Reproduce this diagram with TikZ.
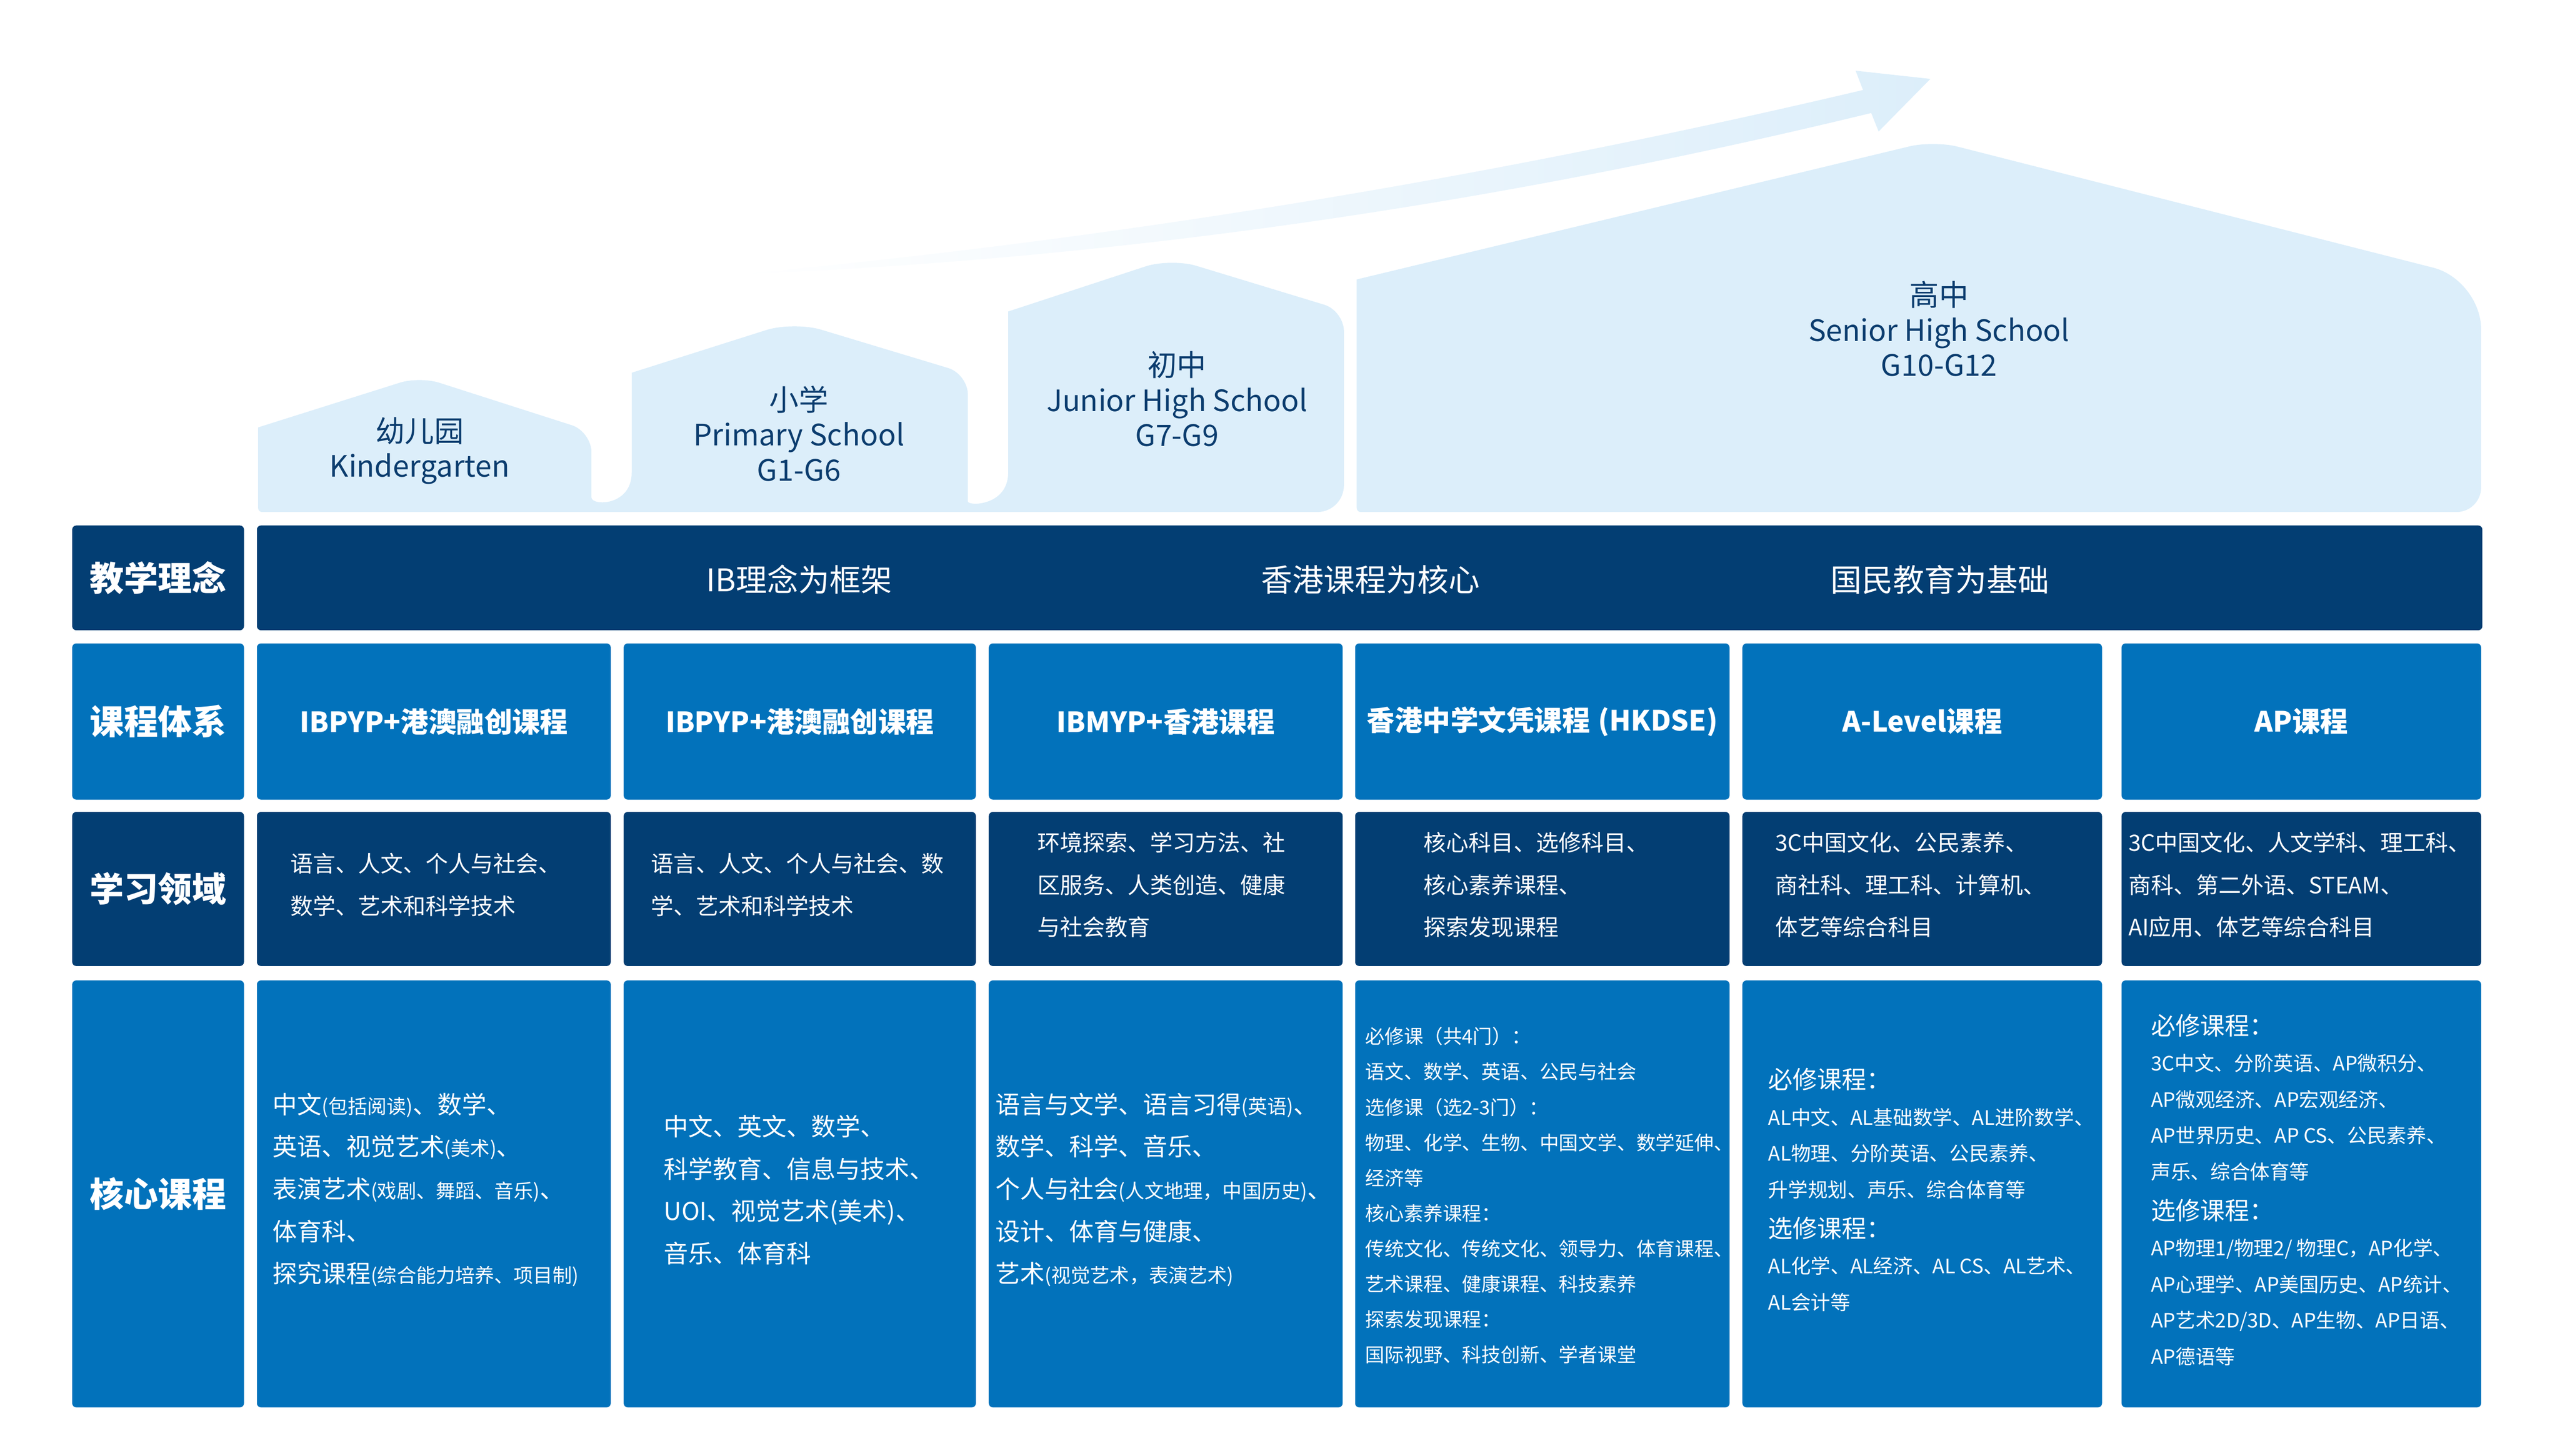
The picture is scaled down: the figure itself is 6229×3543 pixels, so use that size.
\documentclass[tikz,border=0pt]{standalone}
\usepackage{fontspec}
\setmainfont{Noto Sans CJK SC}
\usepackage{tikz}
\usetikzlibrary{positioning}
\definecolor{deepblue}{HTML}{033E73}
\definecolor{midblue}{HTML}{0272BB}
\definecolor{paleblue}{HTML}{DCEEFA}
\definecolor{inkblue}{HTML}{0B3C6E}
\tikzset{
      cell/.style      = {anchor=north west, inner sep=0pt, rounded corners=1mm, text=white},
      darkcell/.style  = {cell, fill=deepblue},
      bluecell/.style  = {cell, fill=midblue},
      rowname/.style   = {font=\fontsize{23.6pt}{28pt}\selectfont\bfseries},
      sysname/.style   = {font=\fontsize{19.3pt}{24pt}\selectfont\bfseries},
      ideatext/.style  = {text=white, font=\fontsize{21.6pt}{26pt}\selectfont},
      areatext/.style  = {anchor=west, align=left, inner sep=0pt, text=white, yshift=1mm, font=\fontsize{15.6pt}{29.3pt}\selectfont},
      coretext/.style  = {areatext, font=\fontsize{17pt}{29.3pt}\selectfont},
      dsetext/.style   = {areatext, yshift=-1.4mm, font=\fontsize{13.4pt}{24.5pt}\selectfont},
      apltext/.style   = {areatext, font=\fontsize{13.7pt}{25pt}\selectfont},
      stagetext/.style = {align=center, text=inkblue, font=\fontsize{20.4pt}{24.2pt}\selectfont},
      house/.style     = {fill=paleblue},
    }
\newcommand\subnote[1]{{\fontsize{13.5pt}{13.5pt}\selectfont #1}}
\newcommand\coursehead[1]{{\fontsize{17pt}{25pt}\selectfont #1}}

\begin{document}
\begin{tikzpicture}[x=0.1mm, y=-0.1mm, node distance=3mm]
          \useasboundingbox (0,0) rectangle (6229,3543);

          \shade[left color=white, middle color=paleblue!80, right color=paleblue]
            (1790,668) .. controls (2711,583) and (3622,434) .. (4533,219) -- (4515,172) -- (4697,192)
            -- (4571,320) -- (4553,275) .. controls (3635,498) and (2718,631) .. (1790,668) -- cycle;

          \fill[house] (628,1246) -- (628,1040) [rounded corners=5mm] -- (1021,916) [rounded corners=5mm]
            -- (1439,1050) [rounded corners=6mm] -- (1439,1150) [sharp corners]
            .. controls (1439,1232) and (1537,1232) .. (1537,1150) -- (1537,907) [rounded corners=7mm]
            -- (1931,782) [rounded corners=5mm] -- (2355,910) [rounded corners=7mm] -- (2355,1150) [sharp corners]
            .. controls (2355,1232) and (2453,1232) .. (2453,1150) -- (2453,758) [rounded corners=6.5mm]
            -- (2849,628) [rounded corners=5mm] -- (3270,756) [rounded corners=6.5mm] -- (3270,1246) [rounded corners=1mm] -- cycle;
          \fill[house] (3301,1246) -- (3301,680) [rounded corners=6mm] -- (4705,342) [rounded corners=12mm]
            -- (6037,681) [rounded corners=6mm] -- (6037,1246) [rounded corners=1mm] -- cycle;

          \node[stagetext] (kg) at (1021,1097) {幼儿园\\Kindergarten};
          \node[stagetext] (ps) at (1944,1055) {小学\\Primary School\\G1-G6};
          \node[stagetext] (js) at (2864,971) {初中\\Junior High School\\G7-G9};
          \node[stagetext] (ss) at (4718,800) {高中\\Senior High School\\G10-G12};

          \node[darkcell, rowname, minimum width=41.8mm, minimum height=25.5mm] (idea) at (175,1278) {教学理念};
          \node[darkcell, minimum width=541.5mm, minimum height=25.5mm, right=of idea] (idea-bar) {};
          \node[ideatext] (idea-ib) at (1945,1410) {IB理念为框架};
          \node[ideatext] (idea-hk) at (3335,1410) {香港课程为核心};
          \node[ideatext] (idea-cn) at (4720,1410) {国民教育为基础};

          \node[bluecell, rowname, minimum width=41.8mm, minimum height=38mm] (sys) at (175,1565) {课程体系};
          \node[bluecell, sysname, minimum width=86.1mm, minimum height=38mm, right=of sys] (sys-kg) {IBPYP+港澳融创课程};
          \node[bluecell, sysname, minimum width=85.7mm, minimum height=38mm, right=of sys-kg] (sys-ps) {IBPYP+港澳融创课程};
          \node[bluecell, sysname, minimum width=86.1mm, minimum height=38mm, right=of sys-ps] (sys-js) {IBMYP+香港课程};
          \node[bluecell, sysname, minimum width=91.1mm, minimum height=38mm, right=2.9mm of sys-js] (sys-dse) {香港中学文凭课程\hspace{0.3em}(HKDSE)};
          \node[bluecell, sysname, minimum width=87.5mm, minimum height=38mm, right=of sys-dse] (sys-al) {A-Level课程};
          \node[bluecell, sysname, minimum width=87.5mm, minimum height=38mm, right=4.6mm of sys-al] (sys-ap) {AP课程};

          \node[darkcell, rowname, minimum width=41.8mm, minimum height=37.5mm] (area) at (175,1975) {学习领域};
          \node[darkcell, minimum width=86.1mm, minimum height=37.5mm, right=of area] (area-kg) {};
          \node[darkcell, minimum width=85.7mm, minimum height=37.5mm, right=of area-kg] (area-ps) {};
          \node[darkcell, minimum width=86.1mm, minimum height=37.5mm, right=of area-ps] (area-js) {};
          \node[darkcell, minimum width=91.1mm, minimum height=37.5mm, right=2.9mm of area-js] (area-dse) {};
          \node[darkcell, minimum width=87.5mm, minimum height=37.5mm, right=of area-dse] (area-al) {};
          \node[darkcell, minimum width=87.5mm, minimum height=37.5mm, right=4.6mm of area-al] (area-ap) {};
          \node[areatext, right=8.2mm of area-kg.west] (area-kg-txt) {语言、人文、个人与社会、\\数学、艺术和科学技术};
          \node[areatext, right=6.6mm of area-ps.west] (area-ps-txt) {语言、人文、个人与社会、数\\学、艺术和科学技术};
          \node[areatext, right=11.9mm of area-js.west] (area-js-txt) {环境探索、学习方法、社\\区服务、人类创造、健康\\与社会教育};
          \node[areatext, right=16.7mm of area-dse.west] (area-dse-txt) {核心科目、选修科目、\\核心素养课程、\\探索发现课程};
          \node[areatext, right=8mm of area-al.west] (area-al-txt) {3C中国文化、公民素养、\\商社科、理工科、计算机、\\体艺等综合科目};
          \node[areatext, right=1.7mm of area-ap.west] (area-ap-txt) {3C中国文化、人文学科、理工科、\\商科、第二外语、STEAM、\\AI应用、体艺等综合科目};

          \node[bluecell, rowname, minimum width=41.8mm, minimum height=103.9mm] (core) at (175,2385) {核心课程};
          \node[bluecell, minimum width=86.1mm, minimum height=103.9mm, right=of core] (core-kg) {};
          \node[bluecell, minimum width=85.7mm, minimum height=103.9mm, right=of core-kg] (core-ps) {};
          \node[bluecell, minimum width=86.1mm, minimum height=103.9mm, right=of core-ps] (core-js) {};
          \node[bluecell, minimum width=91.1mm, minimum height=103.9mm, right=2.9mm of core-js] (core-dse) {};
          \node[bluecell, minimum width=87.5mm, minimum height=103.9mm, right=of core-dse] (core-al) {};
          \node[bluecell, minimum width=87.5mm, minimum height=103.9mm, right=4.6mm of core-al] (core-ap) {};
          \node[coretext, right=3.8mm of core-kg.west] (core-kg-txt) {中文\subnote{(包括阅读)}、数学、\\英语、视觉艺术\subnote{(美术)}、\\表演艺术\subnote{(戏剧、舞蹈、音乐)}、\\体育科、\\探究课程\subnote{(综合能力培养、项目制)}};
          \node[coretext, right=9.8mm of core-ps.west] (core-ps-txt) {中文、英文、数学、\\科学教育、信息与技术、\\UOI、视觉艺术(美术)、\\音乐、体育科};
          \node[coretext, right=1.7mm of core-js.west] (core-js-txt) {语言与文学、语言习得\subnote{(英语)}、\\数学、科学、音乐、\\个人与社会\subnote{(人文地理，中国历史)}、\\设计、体育与健康、\\艺术\subnote{(视觉艺术，表演艺术)}};
          \node[dsetext, right=2.5mm of core-dse.west] (core-dse-txt) {必修课（共4门）：\\语文、数学、英语、公民与社会\\选修课（选2-3门）：\\物理、化学、生物、中国文学、数学延伸、\\经济等\\核心素养课程：\\传统文化、传统文化、领导力、体育课程、\\艺术课程、健康课程、科技素养\\探索发现课程：\\国际视野、科技创新、学者课堂};
          \node[apltext, right=6.3mm of core-al.west] (core-al-txt) {\coursehead{必修课程：}\\AL中文、AL基础数学、AL进阶数学、\\AL物理、分阶英语、公民素养、\\升学规划、声乐、综合体育等\\[3pt]\coursehead{选修课程：}\\AL化学、AL经济、AL CS、AL艺术、\\AL会计等};
          \node[apltext, right=7.2mm of core-ap.west] (core-ap-txt) {\coursehead{必修课程：}\\3C中文、分阶英语、AP微积分、\\AP微观经济、AP宏观经济、\\AP世界历史、AP CS、公民素养、\\声乐、综合体育等\\[3pt]\coursehead{选修课程：}\\AP物理1/物理2/ 物理C，AP化学、\\AP心理学、AP美国历史、AP统计、\\AP艺术2D/3D、AP生物、AP日语、\\AP德语等};
          \end{tikzpicture}
\end{document}
